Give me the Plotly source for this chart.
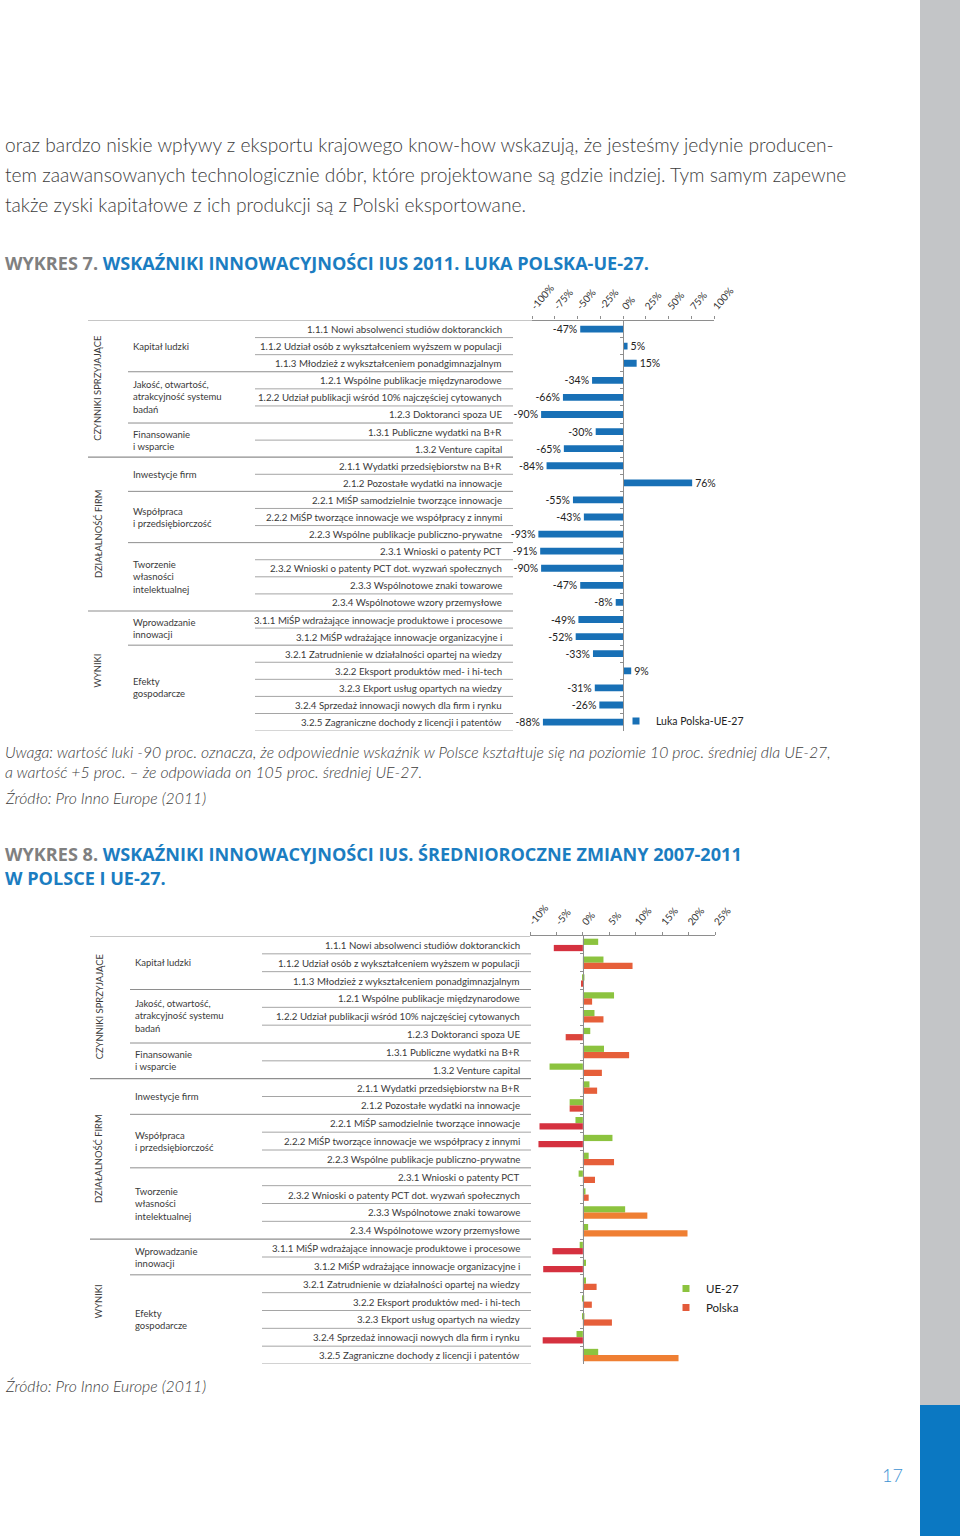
import plotly.graph_objects as go

W, H = 960, 1536
FONT = "Lato"
TXT = "#3a3a3a"
LINE = "#8e8e8e"

# ---------------- data ----------------
indicators = [
    "1.1.1 Nowi absolwenci studiów doktoranckich",
    "1.1.2 Udział osób z wykształceniem wyższem w populacji",
    "1.1.3 Młodzież z wykształceniem ponadgimnazjalnym",
    "1.2.1 Wspólne publikacje międzynarodowe",
    "1.2.2 Udział publikacji wśród 10% najczęściej cytowanych",
    "1.2.3 Doktoranci spoza UE",
    "1.3.1 Publiczne wydatki na B+R",
    "1.3.2 Venture capital",
    "2.1.1 Wydatki przedsiębiorstw na B+R",
    "2.1.2 Pozostałe wydatki na innowacje",
    "2.2.1 MiŚP samodzielnie tworzące innowacje",
    "2.2.2 MiŚP tworzące innowacje we współpracy z innymi",
    "2.2.3 Wspólne publikacje publiczno-prywatne",
    "2.3.1 Wnioski o patenty PCT",
    "2.3.2 Wnioski o patenty PCT dot. wyzwań społecznych",
    "2.3.3 Wspólnotowe znaki towarowe",
    "2.3.4 Wspólnotowe wzory przemysłowe",
    "3.1.1 MiŚP wdrażające innowacje produktowe i procesowe",
    "3.1.2 MiŚP wdrażające innowacje organizacyjne i",
    "3.2.1 Zatrudnienie w działalności opartej na wiedzy",
    "3.2.2 Eksport produktów med- i hi-tech",
    "3.2.3 Ekport usług opartych na wiedzy",
    "3.2.4 Sprzedaż innowacji nowych dla firm i rynku",
    "3.2.5 Zagraniczne dochody z licencji i patentów",
]
# subgroups: (label, first row, last row)
subgroups = [
    ("Kapitał ludzki", 0, 2),
    ("Jakość, otwartość,<br>atrakcyjność systemu<br>badań", 3, 5),
    ("Finansowanie<br>i wsparcie", 6, 7),
    ("Inwestycje firm", 8, 9),
    ("Współpraca<br>i przedsiębiorczość", 10, 12),
    ("Tworzenie<br>własności<br>intelektualnej", 13, 16),
    ("Wprowadzanie<br>innowacji", 17, 18),
    ("Efekty<br>gospodarcze", 19, 23),
]
maingroups = [
    ("CZYNNIKI SPRZYJAJĄCE", 0, 7),
    ("DZIAŁALNOŚĆ FIRM", 8, 16),
    ("WYNIKI", 17, 23),
]

gap_pl_ue = [-47, 5, 15, -34, -66, -90, -30, -65, -84, 76, -55, -43,
             -93, -91, -90, -47, -8, -49, -52, -33, 9, -31, -26, -88]
gap_name = "Luka Polska-UE-27"
gap_ticks = [-100, -75, -50, -25, 0, 25, 50, 75, 100]

ue27_change = [2.9, 3.9, 0.3, 5.9, 2.2, 1.4, 4.0, -6.3, 1.25, -2.5, -1.4, 5.6,
               1.1, -0.8, 0.5, 8.0, 1.0, -0.6, 0.6, 0.6, 0.25, 0.3, -1.2, 2.9]
pl_change = [-5.5, 9.4, -0.2, 1.75, 3.9, -3.25, 8.75, 3.6, 2.7, -2.5, -8.2, -8.4,
             5.9, 2.3, 1.1, 12.2, 19.8, -5.75, -7.5, 2.6, 1.7, 5.5, -7.6, 18.1]
change_ticks = [-10, -5, 0, 5, 10, 15, 20, 25]

rows = list(range(len(indicators)))

C_GAP = "#1870b6"
C_UE = "#8cc33f"
C_PL = "#e35a3a"


def px(v):
    return v / W


def py(v):
    return 1 - v / H


def pl_color(v):
    if v < -4:
        return "#d5313f"
    if v < 0:
        return "#dc453c"
    if v > 10:
        return "#ef7f33"
    return "#e65f3a"


fig = go.Figure()

# ---------------- chart 7 ----------------
fig.add_trace(go.Bar(
    x=gap_pl_ue, y=rows, orientation="h", name=gap_name, showlegend=False,
    marker=dict(color=C_GAP, line=dict(width=0)),
    width=0.4, text=[f"{v}%" for v in gap_pl_ue], textposition="outside",
    constraintext="none",
    textfont=dict(family=FONT, size=10.5, color="#222"), cliponaxis=False,
    xaxis="x", yaxis="y",
))
fig.add_trace(go.Scatter(
    x=[None], y=[None], mode="markers", name=gap_name,
    marker=dict(symbol="square", size=7, color=C_GAP),
    xaxis="x", yaxis="y", legend="legend",
))

# ---------------- chart 8 ----------------
fig.add_trace(go.Bar(
    x=ue27_change, y=rows, orientation="h", name="UE-27", showlegend=False,
    marker=dict(color=C_UE, line=dict(width=0)),
    width=0.35, offset=-0.35, xaxis="x2", yaxis="y2",
))
fig.add_trace(go.Bar(
    x=pl_change, y=rows, orientation="h", name="Polska", showlegend=False,
    marker=dict(color=[pl_color(v) for v in pl_change], line=dict(width=0)),
    width=0.35, offset=0.0, xaxis="x2", yaxis="y2",
))
for nm, col in (("UE-27", C_UE), ("Polska", C_PL)):
    fig.add_trace(go.Scatter(
        x=[None], y=[None], mode="markers", name=nm,
        marker=dict(symbol="square", size=7, color=col),
        xaxis="x2", yaxis="y2", legend="legend2",
    ))

shapes = []
annotations = []


def table(yref, label_right, x_l1, x_l2, x_l3, x_end, x_axis_start, sub_x, main_x):
    n = len(indicators)
    shapes.append(dict(type="line", xref="paper", yref=yref, x0=px(x_l3), x1=px(x_axis_start),
                       y0=-0.5, y1=-0.5, line=dict(color=LINE, width=1.2)))
    main_bounds = {g[2] for g in maingroups[:-1]}
    sub_bounds = {g[2] for g in subgroups[:-1]}
    for i in range(n):
        b = i + 0.5
        if i in main_bounds:
            x0, w = x_l3, 1.2
        elif i in sub_bounds:
            x0, w = x_l2, 1.0
        else:
            x0, w = x_l1, 0.8
        shapes.append(dict(type="line", xref="paper", yref=yref, x0=px(x0), x1=px(x_end),
                           y0=b, y1=b, line=dict(color=LINE, width=w)))
        annotations.append(dict(text=indicators[i], xref="paper", yref=yref, x=px(label_right),
                                y=i, xanchor="right", yanchor="middle", showarrow=False,
                                font=dict(family=FONT, size=9.7, color=TXT)))
    for lab, a, b in subgroups:
        annotations.append(dict(text=lab, xref="paper", yref=yref, x=px(sub_x), y=(a + b) / 2,
                                xanchor="left", yanchor="middle", align="left", showarrow=False,
                                font=dict(family=FONT, size=9.5, color=TXT)))
    for lab, a, b in maingroups:
        annotations.append(dict(text=lab, xref="paper", yref=yref, x=px(main_x), y=(a + b) / 2,
                                xanchor="center", yanchor="middle", textangle=-90, showarrow=False,
                                font=dict(family=FONT, size=9.4, color=TXT)))


table("y", 504, 255, 128, 88, 513, 532, 131, 98)
table("y2", 522, 262, 130, 90, 531, 530, 133, 99)

# ---------------- page texts ----------------
para = [
    ("oraz bardzo niskie wpływy z eksportu krajowego know-how wskazują, że jesteśmy jedynie producen-", 145),
    ("tem zaawansowanych technologicznie dóbr, które projektowane są gdzie indziej. Tym samym zapewne", 175),
    ("także zyski kapitałowe z ich produkcji są z Polski eksportowane.", 204),
]
for t, yy in para:
    annotations.append(dict(text=t, xref="paper", yref="paper", x=px(3), y=py(yy), xanchor="left",
                            yanchor="middle", showarrow=False,
                            font=dict(family=FONT, size=19.2, color="#3c3c3c", weight=300)))

BLUE = "#1b7dc1"
GREY = "#808080"
titles = [
    (f"<span style='color:{GREY}'>WYKRES 7.</span> WSKAŹNIKI INNOWACYJNOŚCI IUS 2011. LUKA POLSKA-UE-27.", 263),
    (f"<span style='color:{GREY}'>WYKRES 8.</span> WSKAŹNIKI INNOWACYJNOŚCI IUS. ŚREDNIOROCZNE ZMIANY 2007-2011"
     "<br>W POLSCE I UE-27.", 866),
]
for t, yy in titles:
    annotations.append(dict(text=f"<b>{t}</b>", xref="paper", yref="paper", x=px(3), y=py(yy),
                            xanchor="left", yanchor="middle", align="left", showarrow=False,
                            font=dict(family="Open Sans", size=18.1, color=BLUE)))

notes = [
    ("Uwaga: wartość luki -90 proc. oznacza, że odpowiednie wskaźnik w Polsce kształtuje się na poziomie 10 proc. średniej dla UE-27,", 752),
    ("a wartość +5 proc. – że odpowiada on 105 proc. średniej UE-27.", 771),
    ("Źródło: Pro Inno Europe (2011)", 797),
    ("Źródło: Pro Inno Europe (2011)", 1385),
]
for t, yy in notes:
    annotations.append(dict(text=f"<i>{t}</i>", xref="paper", yref="paper", x=px(3), y=py(yy),
                            xanchor="left", yanchor="middle", showarrow=False,
                            font=dict(family=FONT, size=15.8, color="#3c3c3c", weight=300)))

annotations.append(dict(text="17", xref="paper", yref="paper", x=px(905), y=py(1475),
                        xanchor="right", yanchor="middle", showarrow=False,
                        font=dict(family=FONT, size=18, color="#3d93d3", weight=300)))

# right side band
shapes.append(dict(type="rect", xref="paper", yref="paper", x0=px(920), x1=1, y0=py(1405), y1=1,
                   fillcolor="#c3c5c7", line=dict(width=0), layer="below"))
shapes.append(dict(type="rect", xref="paper", yref="paper", x0=px(920), x1=1, y0=0, y1=py(1405),
                   fillcolor="#0b78c2", line=dict(width=0), layer="below"))

axfont = dict(family=FONT, size=10, color="#333")
fig.update_layout(
    width=W, height=H, autosize=False,
    margin=dict(l=0, r=0, t=0, b=0, pad=0, autoexpand=False),
    paper_bgcolor="white", plot_bgcolor="rgba(0,0,0,0)",
    barmode="overlay",
    showlegend=True,
    xaxis=dict(domain=[px(532), px(714)], range=[-100, 100], side="top", anchor="y",
               tickvals=gap_ticks, ticktext=[f"{v}%" for v in gap_ticks], tickangle=-50,
               showline=True, linecolor=LINE, linewidth=1.2, ticks="outside", ticklen=3,
               tickcolor=LINE, showgrid=False, zeroline=False, tickfont=axfont,
               automargin=False),
    yaxis=dict(domain=[py(730.6), py(320.5)], range=[23.5, -0.5], anchor="free",
               position=px(623), showline=True, linecolor=LINE, linewidth=1,
               tickvals=[i + 0.5 for i in rows[:-1]], ticks="outside", ticklen=3, tickcolor=LINE,
               showticklabels=False, showgrid=False, zeroline=False, automargin=False),
    xaxis2=dict(domain=[px(530), px(715)], range=[-10, 25], side="top", anchor="y2",
                tickvals=change_ticks, ticktext=[f"{v}%" for v in change_ticks], tickangle=-50,
                showline=True, linecolor=LINE, linewidth=1.2, ticks="outside", ticklen=3,
                tickcolor=LINE, showgrid=False, zeroline=False, tickfont=axfont,
                automargin=False),
    yaxis2=dict(domain=[py(1364), py(936)], range=[23.5, -0.5], anchor="free",
                position=px(583), showline=True, linecolor=LINE, linewidth=1,
                tickvals=[i + 0.5 for i in rows[:-1]], ticks="outside", ticklen=3, tickcolor=LINE,
                showticklabels=False, showgrid=False, zeroline=False, automargin=False),
    legend=dict(x=px(616), y=py(721), xanchor="left", yanchor="middle",
                font=dict(family=FONT, size=10.5, color="#222"), bgcolor="rgba(0,0,0,0)",
                itemwidth=30, tracegroupgap=0),
    legend2=dict(x=px(666), y=py(1298), xanchor="left", yanchor="middle",
                 font=dict(family=FONT, size=11.5, color="#222"), bgcolor="rgba(0,0,0,0)",
                 itemwidth=30, tracegroupgap=0),
    shapes=shapes,
    annotations=annotations,
    font=dict(family=FONT, color=TXT),
)

fig.write_html(
    "out.html",
    config={"responsive": False, "displayModeBar": False},
    post_script="document.body.style.margin='0';document.body.style.overflow='hidden';",
)
